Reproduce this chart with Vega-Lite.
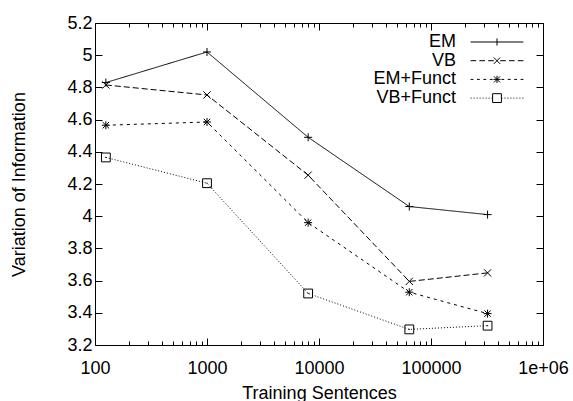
{
  "$schema": "https://vega.github.io/schema/vega-lite/v6.json",
  "width": 448,
  "height": 322,
  "autosize": "none",
  "padding": {"left": 95, "top": 23, "right": 30, "bottom": 56},
  "data": {
    "values": [
      {"n": 125, "vi": 4.83, "s": "EM"},
      {"n": 1000, "vi": 5.02, "s": "EM"},
      {"n": 8000, "vi": 4.49, "s": "EM"},
      {"n": 64000, "vi": 4.06, "s": "EM"},
      {"n": 320000, "vi": 4.01, "s": "EM"},
      {"n": 125, "vi": 4.815, "s": "VB"},
      {"n": 1000, "vi": 4.753, "s": "VB"},
      {"n": 8000, "vi": 4.255, "s": "VB"},
      {"n": 64000, "vi": 3.595, "s": "VB"},
      {"n": 320000, "vi": 3.648, "s": "VB"},
      {"n": 125, "vi": 4.565, "s": "EM+Funct"},
      {"n": 1000, "vi": 4.585, "s": "EM+Funct"},
      {"n": 8000, "vi": 3.96, "s": "EM+Funct"},
      {"n": 64000, "vi": 3.528, "s": "EM+Funct"},
      {"n": 320000, "vi": 3.395, "s": "EM+Funct"},
      {"n": 125, "vi": 4.365, "s": "VB+Funct"},
      {"n": 1000, "vi": 4.205, "s": "VB+Funct"},
      {"n": 8000, "vi": 3.52, "s": "VB+Funct"},
      {"n": 64000, "vi": 3.297, "s": "VB+Funct"},
      {"n": 320000, "vi": 3.32, "s": "VB+Funct"}
    ]
  },
  "layer": [
    {
      "mark": {"type": "line", "color": "black", "strokeWidth": 1},
      "encoding": {
        "x": {
          "field": "n", "type": "quantitative",
          "scale": {"type": "log", "domain": [100, 1000000], "nice": false},
          "axis": {
            "orient": "bottom",
            "values": [100,200,300,400,500,600,700,800,900,1000,2000,3000,4000,5000,6000,7000,8000,9000,10000,20000,30000,40000,50000,60000,70000,80000,90000,100000,200000,300000,400000,500000,600000,700000,800000,900000,1000000],
            "format": "d",
            "labelExpr": "indexof([100,1000,10000,100000], datum.value) >= 0 ? datum.label : (datum.value == 1000000 ? '1e+06' : '')",
            "tickSize": {"condition": {"test": "indexof([100,1000,10000,100000,1000000], datum.value) >= 0", "value": -7}, "value": -4},
            "labelPadding": 21,
            "labelOverlap": false,
            "labelFlush": false,
            "title": "Training Sentences",
            "titlePadding": 4
          }
        },
        "y": {
          "field": "vi", "type": "quantitative",
          "scale": {"domain": [3.2, 5.2], "nice": false, "zero": false},
          "axis": {
            "orient": "left",
            "values": [3.2,3.4,3.6,3.8,4.0,4.2,4.4,4.6,4.8,5.0,5.2],
            "format": "~g",
            "tickSize": -7,
            "labelPadding": 10,
            "title": "Variation of Information",
            "titlePadding": 38
          }
        },
        "strokeDash": {
          "field": "s", "type": "nominal",
          "scale": {"domain": ["EM", "VB", "EM+Funct", "VB+Funct"], "range": [[1, 0], [6, 3], [3, 4], [1, 2]]},
          "legend": null
        }
      }
    },
    {
      "mark": {"type": "point", "color": "black", "filled": false, "strokeWidth": 1, "size": 64, "opacity": 1},
      "encoding": {
        "x": {
          "field": "n", "type": "quantitative",
          "scale": {"type": "log", "domain": [100, 1000000], "nice": false},
          "axis": {
            "orient": "top",
            "values": [100,200,300,400,500,600,700,800,900,1000,2000,3000,4000,5000,6000,7000,8000,9000,10000,20000,30000,40000,50000,60000,70000,80000,90000,100000,200000,300000,400000,500000,600000,700000,800000,900000,1000000],
            "labels": false,
            "tickSize": {"condition": {"test": "indexof([100,1000,10000,100000,1000000], datum.value) >= 0", "value": -7}, "value": -4},
            "title": null
          }
        },
        "y": {
          "field": "vi", "type": "quantitative",
          "scale": {"domain": [3.2, 5.2], "nice": false, "zero": false},
          "axis": {
            "orient": "right",
            "values": [3.2,3.4,3.6,3.8,4.0,4.2,4.4,4.6,4.8,5.0,5.2],
            "labels": false,
            "tickSize": -7,
            "title": null
          }
        },
        "shape": {
          "field": "s", "type": "nominal",
          "scale": {
            "domain": ["EM", "VB", "EM+Funct", "VB+Funct"],
            "range": [
              "M-1,0H1M0,-1V1",
              "M-0.9,-0.9L0.9,0.9M-0.9,0.9L0.9,-0.9",
              "M-1,0H1M0,-1V1M-0.8,-0.8L0.8,0.8M-0.8,0.8L0.8,-0.8",
              "M-1.1,-1.1H1.1V1.1H-1.1ZM-0.15,0H0.15"
            ]
          },
          "legend": null
        }
      }
    },
    {
      "mark": {"type": "point", "color": "black", "filled": false, "strokeWidth": 1, "size": 64, "opacity": 0},
      "encoding": {
        "shape": {
          "field": "s", "type": "nominal",
          "scale": {
            "domain": ["EM", "VB", "EM+Funct", "VB+Funct"],
            "range": [
              "M-6.6,0H6.6M0,-0.9V0.9",
              "M-6.6,0H-5.2M-4.4,0H-3.0M-2.2,0H-0.8M0.8,0H2.2M3.0,0H4.4M5.2,0H6.6M-0.8,-0.8L0.8,0.8M-0.8,0.8L0.8,-0.8",
              "M-6.6,0H-5.9M-5.0,0H-4.3M-3.4,0H-2.7M-1.8,0H-1.1M1.1,0H1.8M2.7,0H3.4M4.3,0H5.0M5.9,0H6.6M-0.9,0H0.9M0,-0.9V0.9M-0.75,-0.75L0.75,0.75M-0.75,0.75L0.75,-0.75",
              "M-6.6,0H-6.35M-5.85,0H-5.6M-5.1,0H-4.85M-4.35,0H-4.1M-3.6,0H-3.35M-2.85,0H-2.6M-2.1,0H-1.85M-1.35,0H-1.1M1.1,0H1.35M1.85,0H2.1M2.6,0H2.85M3.35,0H3.6M4.1,0H4.35M4.85,0H5.1M5.6,0H5.85M6.35,0H6.6M-1.1,-1.1H1.1V1.1H-1.1Z"
            ]
          },
          "legend": {
            "title": null,
            "orient": "none",
            "legendX": 393,
            "legendY": 10,
            "padding": 0,
            "rowPadding": 0.7,
            "labelAlign": "right",
            "labelOffset": -50,
            "labelFontSize": 18,
            "labelFont": "Liberation Sans",
            "labelColor": "black",
            "labelLimit": 0,
            "symbolSize": 64,
            "symbolStrokeWidth": 1,
            "symbolStrokeColor": "black",
            "symbolFillColor": "transparent",
            "encode": {"symbols": {"update": {"opacity": {"value": 1}, "stroke": {"value": "black"}, "fill": {"value": "transparent"}}}}
          }
        }
      }
    }
  ],
  "resolve": {
    "scale": {"shape": "independent"},
    "legend": {"shape": "independent"},
    "axis": {"x": "independent", "y": "independent"}
  },
  "config": {
    "view": {"stroke": null},
    "font": "Liberation Sans",
    "axis": {
      "grid": false,
      "domainColor": "black",
      "domainWidth": 1,
      "tickColor": "black",
      "tickWidth": 1,
      "labelColor": "black",
      "labelFontSize": 18,
      "labelFont": "Liberation Sans",
      "titleFontSize": 18,
      "titleFont": "Liberation Sans",
      "titleFontWeight": "normal",
      "titleColor": "black"
    }
  }
}
